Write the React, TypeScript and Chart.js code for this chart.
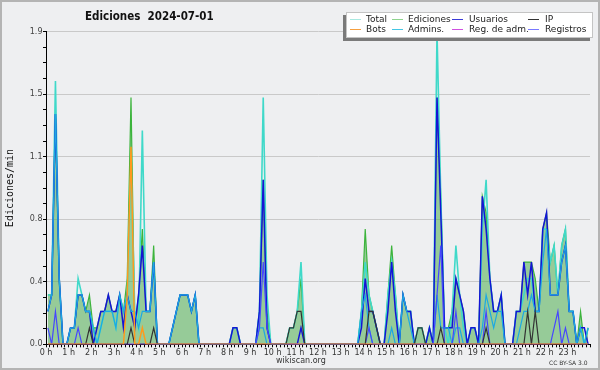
import React, { useEffect, useRef } from 'react';
import { Chart, registerables } from 'chart.js';

Chart.register(...registerables);

const TITLE = 'Ediciones  2024-07-01';
const Y_TITLE = 'Ediciones/min';
const FOOTER_SITE = 'wikiscan.org';
const FOOTER_LICENSE = 'CC BY-SA 3.0';

const HOUR_LABELS = [
  '0 h', '1 h', '2 h', '3 h', '4 h', '5 h', '6 h', '7 h', '8 h', '9 h', '10 h', '11 h',
  '12 h', '13 h', '14 h', '15 h', '16 h', '17 h', '18 h', '19 h', '20 h', '21 h', '22 h', '23 h',
];
const SLOTS_PER_HOUR = 6; // 10-minute bins
const SLOT_COUNT = 144;
const Y_MAX = 1.9;
const Y_STEP = 0.095;
const Y_LABEL_EVERY = 4;

const SERIES_NAMES = ['Total', 'Ediciones', 'Usuarios', 'IP', 'Bots', 'Admins.', 'Reg. de adm.', 'Registros'];

// edits per minute, one value per 10-minute bin (6 per hour)
const TOTAL = [
  0.3, 0.3, 1.6, 0.4, 0, 0,
  0.1, 0.1, 0.4, 0.3, 0.2, 0.2,
  0.1, 0, 0.1, 0.2, 0.2, 0.2,
  0.1, 0.3, 0.2, 0.3, 1.1, 0.2,
  0.1, 1.3, 0.2, 0.2, 0.5, 0,
  0, 0, 0, 0.1, 0.2, 0.3,
  0.3, 0.3, 0.2, 0.3, 0, 0,
  0, 0, 0, 0, 0, 0,
  0, 0.1, 0.1, 0, 0, 0,
  0, 0, 0.2, 1.5, 0.3, 0,
  0, 0, 0, 0, 0.1, 0.1,
  0.2, 0.5, 0, 0, 0, 0,
  0, 0, 0, 0, 0, 0,
  0, 0, 0, 0, 0, 0.2,
  0.5, 0.3, 0.2, 0.1, 0, 0,
  0.3, 0.5, 0.3, 0, 0.3, 0.2,
  0.2, 0, 0.1, 0.1, 0, 0.1,
  0, 1.9, 0.9, 0.1, 0, 0.2,
  0.6, 0.3, 0.1, 0, 0.1, 0.1,
  0, 0.7, 1.0, 0.4, 0.2, 0.2,
  0.3, 0, 0, 0, 0.2, 0.2,
  0.3, 0.4, 0.4, 0.2, 0.2, 0.7,
  0.7, 0.5, 0.6, 0.3, 0.6, 0.7,
  0.2, 0.2, 0, 0.1, 0, 0.1,
];

const EDICIONES = [
  0.3, 0.3, 1.4, 0.4, 0, 0,
  0.1, 0.1, 0.3, 0.3, 0.2, 0.3,
  0.1, 0.1, 0.2, 0.2, 0.3, 0.2,
  0.2, 0.3, 0.2, 0.4, 1.5, 0.1,
  0.3, 0.7, 0.2, 0.2, 0.6, 0,
  0, 0, 0, 0.1, 0.2, 0.3,
  0.3, 0.3, 0.2, 0.3, 0, 0,
  0, 0, 0, 0, 0, 0,
  0, 0.1, 0.1, 0, 0, 0,
  0, 0, 0.2, 1.0, 0.2, 0,
  0, 0, 0, 0, 0.1, 0.1,
  0.2, 0.4, 0, 0, 0, 0,
  0, 0, 0, 0, 0, 0,
  0, 0, 0, 0, 0, 0.2,
  0.7, 0.3, 0.2, 0.1, 0, 0,
  0.3, 0.6, 0.3, 0, 0.3, 0.2,
  0.2, 0, 0.1, 0.1, 0, 0.1,
  0, 1.5, 0.9, 0.1, 0.1, 0.2,
  0.4, 0.3, 0.2, 0, 0.1, 0.1,
  0, 0.9, 0.8, 0.4, 0.2, 0.2,
  0.3, 0, 0, 0, 0.2, 0.2,
  0.5, 0.5, 0.5, 0.4, 0.2, 0.7,
  0.8, 0.5, 0.6, 0.3, 0.6, 0.7,
  0.2, 0.2, 0, 0.2, 0, 0.1,
];

const USUARIOS = [
  0.2, 0.3, 1.4, 0.4, 0, 0,
  0.1, 0.1, 0.3, 0.3, 0.2, 0.2,
  0, 0.1, 0.2, 0.2, 0.3, 0.2,
  0.2, 0.3, 0.1, 0.3, 0.2, 0.1,
  0.3, 0.6, 0.2, 0.2, 0.5, 0,
  0, 0, 0, 0.1, 0.2, 0.3,
  0.3, 0.3, 0.2, 0.3, 0, 0,
  0, 0, 0, 0, 0, 0,
  0, 0.1, 0.1, 0, 0, 0,
  0, 0, 0.2, 1.0, 0.1, 0,
  0, 0, 0, 0, 0, 0,
  0, 0.1, 0, 0, 0, 0,
  0, 0, 0, 0, 0, 0,
  0, 0, 0, 0, 0, 0.1,
  0.4, 0.2, 0.2, 0.1, 0, 0,
  0.2, 0.5, 0.2, 0, 0.3, 0.2,
  0.2, 0, 0, 0, 0, 0.1,
  0, 1.5, 0.8, 0.1, 0.1, 0.1,
  0.4, 0.3, 0.2, 0, 0.1, 0.1,
  0, 0.9, 0.7, 0.4, 0.2, 0.2,
  0.3, 0, 0, 0, 0.2, 0.2,
  0.5, 0.3, 0.5, 0.2, 0.2, 0.7,
  0.8, 0.3, 0.3, 0.3, 0.5, 0.6,
  0.2, 0.2, 0, 0.1, 0.1, 0,
];

const IP = [
  0, 0, 0, 0, 0, 0,
  0, 0, 0, 0, 0, 0.1,
  0, 0, 0, 0, 0, 0,
  0, 0, 0, 0, 0.1, 0,
  0, 0, 0, 0, 0.1, 0,
  0, 0, 0, 0, 0, 0,
  0, 0, 0, 0, 0, 0,
  0, 0, 0, 0, 0, 0,
  0, 0, 0, 0, 0, 0,
  0, 0, 0, 0, 0, 0,
  0, 0, 0, 0, 0.1, 0.1,
  0.2, 0.2, 0, 0, 0, 0,
  0, 0, 0, 0, 0, 0,
  0, 0, 0, 0, 0, 0,
  0, 0.2, 0.2, 0.1, 0, 0,
  0, 0, 0, 0, 0, 0,
  0, 0, 0.1, 0.1, 0, 0,
  0, 0, 0.1, 0, 0, 0,
  0, 0, 0, 0, 0, 0,
  0, 0, 0.1, 0, 0, 0,
  0, 0, 0, 0, 0, 0,
  0, 0.2, 0, 0.2, 0, 0,
  0, 0, 0, 0, 0, 0,
  0, 0, 0, 0, 0, 0,
];

const BOTS = [
  0, 0, 0, 0, 0, 0,
  0, 0, 0, 0, 0, 0,
  0, 0, 0, 0, 0, 0,
  0, 0, 0, 0.3, 1.2, 0,
  0, 0.1, 0, 0, 0, 0,
  0, 0, 0, 0, 0, 0,
  0, 0, 0, 0, 0, 0,
  0, 0, 0, 0, 0, 0,
  0, 0, 0, 0, 0, 0,
  0, 0, 0, 0, 0, 0,
  0, 0, 0, 0, 0, 0,
  0, 0, 0, 0, 0, 0,
  0, 0, 0, 0, 0, 0,
  0, 0, 0, 0, 0, 0,
  0, 0, 0, 0, 0, 0,
  0, 0, 0, 0, 0, 0,
  0, 0, 0, 0, 0, 0,
  0, 0, 0, 0, 0, 0,
  0, 0, 0, 0, 0, 0,
  0, 0, 0, 0, 0, 0,
  0, 0, 0, 0, 0, 0,
  0, 0, 0, 0, 0, 0,
  0, 0, 0, 0, 0, 0,
  0, 0, 0, 0, 0, 0,
];

const ADMINS = [
  0.2, 0.3, 1.4, 0.4, 0, 0,
  0.1, 0.1, 0.3, 0.3, 0.2, 0.2,
  0.1, 0, 0.1, 0.2, 0.2, 0.2,
  0.1, 0.3, 0.2, 0.3, 0.2, 0.2,
  0.1, 0.2, 0.2, 0.2, 0.5, 0,
  0, 0, 0, 0.1, 0.2, 0.3,
  0.3, 0.3, 0.2, 0.3, 0, 0,
  0, 0, 0, 0, 0, 0,
  0, 0, 0, 0, 0, 0,
  0, 0, 0.1, 0.1, 0, 0,
  0, 0, 0, 0, 0, 0,
  0, 0, 0, 0, 0, 0,
  0, 0, 0, 0, 0, 0,
  0, 0, 0, 0, 0, 0.2,
  0.3, 0.1, 0, 0, 0, 0,
  0, 0.1, 0, 0, 0.3, 0.2,
  0.1, 0, 0, 0, 0, 0,
  0, 0.3, 0.1, 0.1, 0.1, 0,
  0.1, 0.1, 0, 0, 0, 0,
  0, 0.1, 0.3, 0.2, 0.1, 0.2,
  0.2, 0, 0, 0, 0, 0.1,
  0.2, 0.2, 0.3, 0.2, 0.2, 0.5,
  0.7, 0.3, 0.3, 0.3, 0.5, 0.6,
  0.2, 0.2, 0, 0.1, 0, 0.1,
];

const REG_ADM = [
  0, 0, 0, 0, 0, 0, 0, 0, 0, 0, 0, 0,
  0, 0, 0, 0, 0, 0, 0, 0, 0, 0, 0, 0,
  0, 0, 0, 0, 0, 0, 0, 0, 0, 0, 0, 0,
  0, 0, 0, 0, 0, 0, 0, 0, 0, 0, 0, 0,
  0, 0, 0, 0, 0, 0, 0, 0, 0, 0, 0, 0,
  0, 0, 0, 0, 0, 0, 0, 0, 0, 0, 0, 0,
  0, 0, 0, 0, 0, 0, 0, 0, 0, 0, 0, 0,
  0, 0, 0, 0, 0, 0, 0, 0, 0, 0, 0, 0,
  0, 0, 0, 0, 0, 0, 0, 0, 0, 0, 0, 0,
  0, 0, 0, 0, 0, 0, 0, 0, 0, 0, 0, 0,
  0, 0, 0, 0, 0, 0, 0, 0, 0, 0, 0, 0,
  0, 0, 0, 0, 0, 0, 0, 0, 0, 0, 0, 0,
];

const REGISTROS = [
  0.1, 0, 0.2, 0, 0, 0,
  0, 0, 0.1, 0, 0, 0,
  0, 0, 0, 0, 0, 0,
  0, 0, 0, 0, 0, 0,
  0, 0, 0, 0, 0, 0,
  0, 0, 0, 0, 0, 0,
  0, 0, 0, 0, 0, 0,
  0, 0, 0, 0, 0, 0,
  0, 0, 0, 0, 0, 0,
  0, 0, 0.1, 0.5, 0.1, 0,
  0, 0, 0, 0, 0, 0,
  0, 0, 0, 0, 0, 0,
  0, 0, 0, 0, 0, 0,
  0, 0, 0, 0, 0, 0,
  0, 0.1, 0, 0, 0, 0,
  0, 0, 0, 0, 0, 0,
  0, 0, 0, 0, 0, 0,
  0, 0.3, 0.6, 0, 0, 0,
  0.2, 0, 0, 0, 0, 0,
  0, 0, 0.2, 0, 0, 0,
  0, 0, 0, 0, 0, 0,
  0, 0, 0, 0, 0, 0,
  0, 0, 0.1, 0.2, 0, 0.1,
  0, 0, 0, 0, 0, 0,
];

const LINE_COLORS: Record<string, string> = {
  'Total': '#3fd9c9',
  'Ediciones': '#3cb43c',
  'Usuarios': '#1414d6',
  'IP': '#333333',
  'Bots': '#ff9a1c',
  'Admins.': '#1ca9e2',
  'Reg. de adm.': '#cc33dd',
  'Registros': '#4646ff',
};

const LEGEND_COLORS: Record<string, string> = {
  'Total': '#a9e9e1',
  'Ediciones': '#8fd48f',
  'Usuarios': '#3a3ad8',
  'IP': '#333333',
  'Bots': '#f6a040',
  'Admins.': '#44c6e4',
  'Reg. de adm.': '#d050e0',
  'Registros': '#7878ff',
};

const FONT = '"DejaVu Sans", Verdana, sans-serif';

export default function App() {
  const canvasRef = useRef<HTMLCanvasElement | null>(null);

  useEffect(() => {
    if (!canvasRef.current) return;
    const toXY = (arr: number[]) => arr.map((v, i) => ({ x: i + 0.5, y: v }));
    const clip = { left: 2, top: 2, right: 2, bottom: 0 };
    const line = (name: string, values: number[], width: number, order: number, extra: any = {}) => ({
      label: name,
      data: toXY(values),
      borderColor: LINE_COLORS[name],
      backgroundColor: LINE_COLORS[name],
      borderWidth: width,
      pointRadius: 0,
      pointHoverRadius: 0,
      tension: 0,
      fill: false,
      order,
      clip,
      ...extra,
    });

    const bgPlugin = {
      id: 'bgFrame',
      beforeDraw(chart: any) {
        const c = chart.ctx;
        c.save();
        c.fillStyle = '#eeeff1';
        c.fillRect(0, 0, chart.width, chart.height);
        c.strokeStyle = '#b4b4b4';
        c.lineWidth = 2;
        c.strokeRect(1, 1, chart.width - 2, chart.height - 2);
        c.restore();
      },
    };

    const chart = new Chart(canvasRef.current, {
      type: 'line',
      data: {
        datasets: [
          line('Bots', BOTS, 1.5, 1),
          line('IP', IP, 1.2, 2),
          line('Reg. de adm.', REG_ADM, 1.2, 3),
          line('Registros', REGISTROS, 1.2, 4),
          line('Admins.', ADMINS, 1.2, 5),
          line('Usuarios', USUARIOS, 1.5, 6),
          line('Total', TOTAL, 1.6, 7),
          line('Ediciones', EDICIONES, 1.2, 8, { fill: 'origin', backgroundColor: 'rgba(78,173,79,0.55)' }),
        ],
      },
      options: {
        responsive: false,
        animation: false,
        events: [],
        layout: { padding: { top: 31.7, right: 10, left: 0, bottom: 0 } },
        plugins: {
          legend: { display: false },
          title: { display: false },
          tooltip: { enabled: false },
        },
        scales: {
          x: {
            type: 'linear',
            min: 0,
            max: SLOT_COUNT,
            z: 1,
            afterFit: (s: any) => { s.height = 25.7; },
            border: { display: true, color: '#000', width: 1 },
            grid: { drawOnChartArea: false, drawTicks: true, tickLength: 3, color: '#000', tickColor: '#000' },
            ticks: {
              stepSize: 1,
              autoSkip: false,
              maxRotation: 0,
              minRotation: 0,
              maxTicksLimit: 1000,
              padding: 1,
              color: '#333',
              font: { family: FONT, size: 8 },
              callback: (v: any) => {
                const n = Math.round(Number(v));
                if (n % SLOTS_PER_HOUR !== 0) return '';
                return HOUR_LABELS[n / SLOTS_PER_HOUR] ?? '';
              },
            },
          },
          y: {
            type: 'linear',
            min: 0,
            max: Y_MAX,
            afterFit: (s: any) => { s.width = 46; },
            border: { display: true, color: '#000', width: 1 },
            grid: {
              drawTicks: true,
              tickLength: 3,
              tickColor: '#000',
              color: (ctx: any) => (ctx.index > 0 && ctx.index % Y_LABEL_EVERY === 0 ? '#c9c9c9' : 'rgba(0,0,0,0)'),
            },
            ticks: {
              stepSize: Y_STEP,
              autoSkip: false,
              maxTicksLimit: 1000,
              padding: 0.5,
              color: '#444',
              font: { family: FONT, size: 8 },
              callback: (v: any, i: number) => (i % Y_LABEL_EVERY === 0 ? Number(v).toFixed(1) : ''),
            },
            title: {
              display: true,
              text: Y_TITLE,
              color: '#111',
              font: { family: '"DejaVu Sans Mono", monospace', size: 10 },
              padding: { top: 4, bottom: 0 },
            },
          },
        },
      },
      plugins: [bgPlugin],
    } as any);

    return () => chart.destroy();
  }, []);

  const legendCols = [
    { sample: 350, text: 366 },
    { sample: 392, text: 408 },
    { sample: 452, text: 469 },
    { sample: 528, text: 545 },
  ];

  return (
    <div style={{ position: 'absolute', left: 0, top: 0, width: 600, height: 370, overflow: 'hidden' }}>
      <canvas ref={canvasRef} width={600} height={370} style={{ display: 'block', width: 600, height: 370 }} />
      <div
        style={{
          position: 'absolute', left: 85, top: 11, fontFamily: '"DejaVu Sans Condensed", "DejaVu Sans", sans-serif',
          fontStretch: 'condensed', fontWeight: 'bold', fontSize: 11.5, lineHeight: 1, whiteSpace: 'pre', color: '#111',
        }}
      >
        {TITLE}
      </div>
      <div
        style={{
          position: 'absolute', left: 346, top: 12, width: 247, height: 26, boxSizing: 'border-box',
          background: '#ffffff', border: '1px solid #c4c4c4', boxShadow: '-3px 3px 0 #7a7a7a',
        }}
      />
      {SERIES_NAMES.map((name, idx) => {
        const row = idx < 4 ? 0 : 1;
        const col = legendCols[idx % 4];
        const cy = row === 0 ? 19 : 29;
        return (
          <React.Fragment key={name}>
            <div style={{ position: 'absolute', left: col.sample, top: cy - 0.5, width: 11, height: 1, background: LEGEND_COLORS[name] }} />
            <div
              style={{
                position: 'absolute', left: col.text, top: cy - 4.4, fontFamily: FONT, fontSize: 9, lineHeight: 1,
                whiteSpace: 'pre', color: '#222',
              }}
            >
              {name}
            </div>
          </React.Fragment>
        );
      })}
      <div style={{ position: 'absolute', left: 276, top: 356.5, fontFamily: FONT, fontSize: 8, lineHeight: 1, color: '#333', whiteSpace: 'pre' }}>
        {FOOTER_SITE}
      </div>
      <div style={{ position: 'absolute', left: 549, top: 359.6, fontFamily: FONT, fontSize: 6, lineHeight: 1, color: '#333', whiteSpace: 'pre' }}>
        {FOOTER_LICENSE}
      </div>
    </div>
  );
}
